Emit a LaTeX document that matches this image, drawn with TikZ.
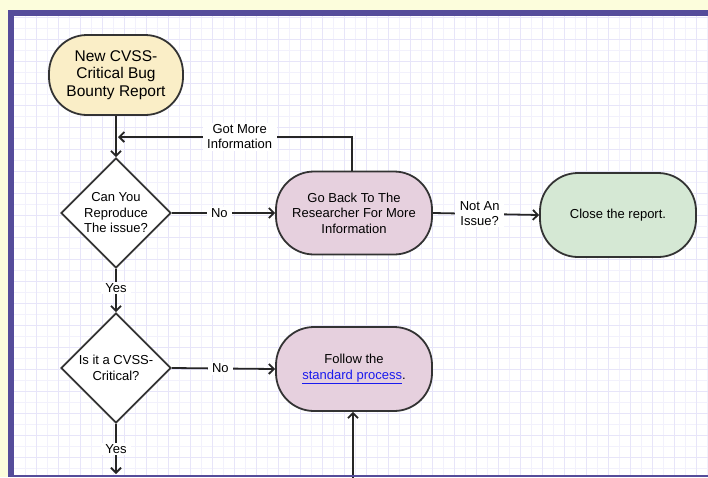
\documentclass[tikz,border=0pt]{standalone}
\usepackage{fontspec}
\setmainfont{Liberation Sans}
\usetikzlibrary{shapes.geometric,arrows.meta}
\definecolor{bgyellow}{HTML}{FCFDDC}
\definecolor{frame}{HTML}{554C9A}
\definecolor{gridmajor}{HTML}{E7E5F9}
\definecolor{gridminor}{HTML}{F2F1FC}
\definecolor{startfill}{HTML}{FAEEC7}
\definecolor{pinkfill}{HTML}{E6D0DE}
\definecolor{greenfill}{HTML}{D5E8D4}
\definecolor{strokegray}{HTML}{333333}
\definecolor{linkblue}{HTML}{1A1AEE}
\tikzset{
  basefont/.style={font=\fontsize{13}{15.5}\selectfont},
  startbox/.style={draw=strokegray, line width=1.8pt, fill=startfill, rounded corners=38pt,
    minimum width=134pt, minimum height=80pt, align=center, inner sep=2pt,
    font=\fontsize{15.5}{17.5}\selectfont},
  procbox/.style={draw=strokegray, line width=1.8pt, rounded corners=38pt,
    minimum width=156pt, minimum height=83pt, align=center, inner sep=2pt, basefont},
  decision/.style={diamond, aspect=1, draw=strokegray, line width=1.8pt, fill=white,
    minimum width=110pt, minimum height=110pt, inner sep=0pt},
  dtext/.style={align=center, basefont, inner sep=0pt},
  conn/.style={draw=black!85, line width=1.8pt, -{Straight Barb[length=5pt,width=10pt]}},
  elabel/.style={fill=white, inner xsep=4.5pt, inner ysep=1.5pt, align=center,
    font=\fontsize{13}{15}\selectfont},
  majorline/.style={draw=gridmajor, line width=1pt},
  minorline/.style={draw=gridminor, line width=0.8pt}
}
\begin{document}
\begin{tikzpicture}[x=1pt,y=-1pt]
\useasboundingbox (0,0) rectangle (708,477);
% background and frame
\fill[bgyellow] (0,0) rectangle (708,477);
\fill[frame] (8,10) rectangle (708,477);
\fill[white] (14,16) rectangle (708,475);
% grid
\begin{scope}
\clip (14,16) rectangle (708,475);
\foreach \gx in {25,47,...,708} \draw[minorline] (\gx,16) -- (\gx,475);
\foreach \gy in {28,50,...,475} \draw[minorline] (14,\gy) -- (708,\gy);
\foreach \gx in {36,58,...,708} \draw[majorline] (\gx,16) -- (\gx,475);
\foreach \gy in {17,39,...,475} \draw[majorline] (14,\gy) -- (708,\gy);
\end{scope}
% nodes
\node[startbox] (start) at (116,75) {New CVSS-\\Critical Bug\\Bounty Report};
\node[decision, label={[dtext]center:Can You\\Reproduce\\The issue?}] (d1) at (116,213) {};
\node[procbox, fill=pinkfill] (p1) at (354,213) {Go Back To The\\Researcher For More\\Information};
\node[procbox, fill=greenfill, minimum height=84pt] (close) at (618,215) {Close the report.};
\node[decision, label={[dtext]center:Is it a CVSS-\\Critical?}] (d2) at (116,368) {};
\node[procbox, fill=pinkfill, minimum height=84pt] (p2) at (354,369) {Follow the\\{\color{linkblue}\underline{standard process}}.};
% free ends
\coordinate (gmend) at (118,137);
\coordinate (yesend) at (116,474);
\coordinate (botstart) at (353,478);
% connectors
\draw[conn] (start.south) -- (d1.north);
\draw[conn] ([xshift=-2pt]p1.north) |- node[pos=0.74, elabel] (gmlabel) {Got More\\Information} (gmend);
\draw[conn] (d1.east) -- node[pos=0.46, elabel] (no1) {No} (p1.west);
\draw[conn] (p1.east) -- node[pos=0.44, elabel] (notissue) {Not An\\Issue?} (close.west);
\draw[conn] (d1.south) -- node[pos=0.45, elabel] (yes1) {Yes} (d2.north);
\draw[conn] (d2.east) -- node[pos=0.47, elabel] (no2) {No} (p2.west);
\draw[conn] (d2.south) -- node[pos=0.5, elabel] (yes2) {Yes} (yesend);
\draw[conn] (botstart) -- ([xshift=-1pt]p2.south);
% bottom frame strip
\fill[frame] (8,475) rectangle (708,477);
\end{tikzpicture}
\end{document}
